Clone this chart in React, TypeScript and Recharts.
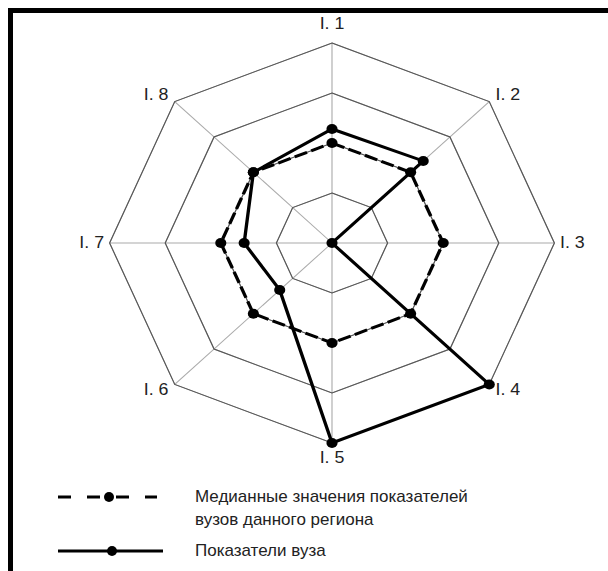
import React from 'react';
import { RadarChart, Radar, PolarGrid, PolarAngleAxis, PolarRadiusAxis } from 'recharts';

const categories = ['I. 1', 'I. 2', 'I. 3', 'I. 4', 'I. 5', 'I. 6', 'I. 7', 'I. 8'];
const medianValues = [2, 2, 2, 2, 2, 2, 2, 2];
const vuzValues = [2.28, 2.32, 0, 4, 4, 1.33, 1.58, 2.0];
const radiusDomain = [0, 4];
const radiusTickCount = 5;
const medianName = ['Медианные значения показателей', 'вузов данного региона'];
const vuzName = ['Показатели вуза'];

const data = categories.map((c, i) => ({ name: c, median: medianValues[i], vuz: vuzValues[i] }));

const FONT = '"Liberation Sans", Arial, sans-serif';

const renderTick = (props: any) => {
  const { x, y, payload, textAnchor } = props;
  const ang = ((payload?.coordinate ?? 0) * Math.PI) / 180;
  const s = Math.sin(ang);
  const c = Math.cos(ang);
  let dx = 0;
  let dy = 0;
  if (Math.abs(c) < 0.1) {
    dy = s > 0 ? -11 : 7;
  } else if (Math.abs(s) < 0.1) {
    dx = -3 * Math.sign(c);
  } else {
    dy = s > 0 ? -1.6 : 0;
  }
  return (
    <text
      x={x + dx}
      y={y + dy}
      textAnchor={textAnchor}
      dominantBaseline="central"
      fontSize={16}
      fontFamily={FONT}
      fill="#222"
    >
      {payload.value}
    </text>
  );
};

const renderDot = (props: any) => {
  const { cx, cy, index, dataKey } = props;
  if (cx == null || cy == null) return <g key={`d-${dataKey}-${index}`} />;
  return <circle key={`d-${dataKey}-${index}`} cx={cx} cy={cy} r={5} fill="#000" stroke="none" />;
};

const LegendIcon = ({ dashed }: { dashed: boolean }) => (
  <svg width={110} height={14} style={{ display: 'block' }}>
    <line
      x1={1}
      y1={7}
      x2={dashed ? 100 : 106}
      y2={7}
      stroke="#000"
      strokeWidth={3}
      strokeDasharray={dashed ? '13 16' : undefined}
    />
    <circle cx={dashed ? 52 : 55} cy={7} r={5} fill="#000" />
  </svg>
);

export default function App() {
  return (
    <div
      style={{
        position: 'fixed',
        left: 8,
        top: 8,
        width: 600,
        height: 563,
        borderTop: '5px solid #000',
        borderLeft: '5px solid #000',
        boxSizing: 'border-box',
        background: '#fff',
        overflow: 'hidden',
      }}
    >
      <div
        style={{
          position: 'absolute',
          left: 0,
          top: 0,
          transform: 'scaleX(1.112)',
          transformOrigin: '319px 230px',
        }}
      >
        <RadarChart
          width={590}
          height={470}
          data={data}
          cx={319}
          cy={230}
          outerRadius={200}
          startAngle={90}
          endAngle={-270}
          margin={{ top: 0, right: 0, bottom: 0, left: 0 }}
        >
          <PolarGrid gridType="polygon" stroke="#aaa" strokeWidth={1} />
          <PolarGrid gridType="polygon" radialLines={false} stroke="#555" strokeWidth={1} />
          <PolarRadiusAxis
            domain={radiusDomain as [number, number]}
            tickCount={radiusTickCount}
            angle={90}
            tick={false}
            axisLine={false}
          />
          <PolarAngleAxis dataKey="name" tick={renderTick} tickLine={false} axisLine={false} />
          <Radar
            name={medianName.join(' ')}
            dataKey="median"
            stroke="#000"
            strokeWidth={3}
            strokeDasharray="12 4"
            fill="none"
            fillOpacity={0}
            dot={renderDot}
            isAnimationActive={false}
          />
          <Radar
            name={vuzName.join(' ')}
            dataKey="vuz"
            stroke="#000"
            strokeWidth={3}
            fill="none"
            fillOpacity={0}
            dot={renderDot}
            isAnimationActive={false}
          />
        </RadarChart>
      </div>
      <div style={{ position: 'absolute', left: 44, top: 472, width: 540 }}>
        <div style={{ display: 'flex', alignItems: 'flex-start' }}>
          <div style={{ width: 138, paddingTop: 5 }}>
            <LegendIcon dashed />
          </div>
          <div style={{ fontFamily: FONT, fontSize: 17, lineHeight: '23px', color: '#222' }}>
            {medianName.map((t) => (
              <div key={t}>{t}</div>
            ))}
          </div>
        </div>
        <div style={{ display: 'flex', alignItems: 'center', marginTop: 8 }}>
          <div style={{ width: 138 }}>
            <LegendIcon dashed={false} />
          </div>
          <div style={{ fontFamily: FONT, fontSize: 17, lineHeight: '23px', color: '#222' }}>
            {vuzName[0]}
          </div>
        </div>
      </div>
    </div>
  );
}
